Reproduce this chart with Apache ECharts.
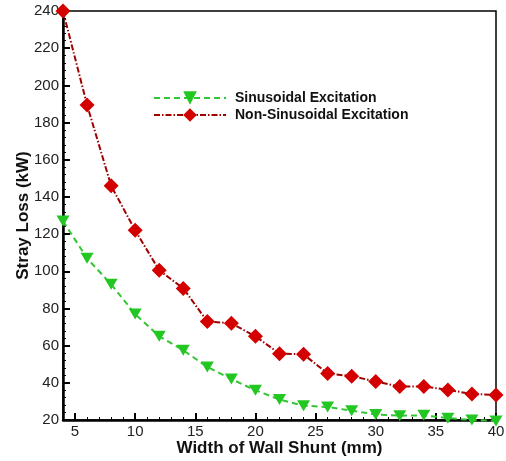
<!DOCTYPE html>
<html>
<head>
<meta charset="utf-8">
<script src="https://cdn.jsdelivr.net/npm/echarts@6/dist/echarts.min.js"></script>
<style>
  html, body { margin: 0; padding: 0; background: #fff; }
  #chart { width: 506px; height: 461px; }
</style>
</head>
<body>
<div id="chart"></div>
<script>
const widths = [4, 6, 8, 10, 12, 14, 16, 18, 20, 22, 24, 26, 28, 30, 32, 34, 36, 38, 40];
const sinusoidal = [127, 107, 93, 77, 65, 57.5, 48.5, 42, 36, 31, 27.7, 27, 25, 23, 22.3, 22.5, 21, 20, 19.5];
const nonSinusoidal = [240, 189.5, 146, 122, 100.5, 90.8, 73, 72, 65, 55.7, 55.3, 45, 43.6, 40.7, 38, 38, 36.2, 34, 33.5];
const majorXTicks = [5, 10, 15, 20, 25, 30, 35, 40];

const chart = echarts.init(document.getElementById("chart"));
const font = "Liberation Sans, Arial, sans-serif";

chart.setOption({
  animation: false,
  grid: {
    left: 63, right: 10, top: 11, bottom: 41,
    outerBoundsMode: "none",
    show: true, borderColor: "#000", borderWidth: 1.5, backgroundColor: "transparent"
  },
  legend: {
    orient: "vertical",
    left: 148, top: 86,
    itemWidth: 72, itemHeight: 17, itemGap: 3,
    textStyle: { fontFamily: font, fontWeight: "bold", fontSize: 14, color: "#111", padding: [0, 0, 0, 4] },
    data: ["Sinusoidal Excitation", "Non-Sinusoidal Excitation"]
  },
  xAxis: [
    {
      type: "value", min: 4, max: 40, interval: 1,
      name: "Width of Wall Shunt (mm)", nameLocation: "middle", nameGap: 20,
      nameMoveOverlap: false,
      nameTextStyle: { fontFamily: font, fontWeight: "bold", fontSize: 17, color: "#111" },
      axisLine: { show: true, lineStyle: { color: "#000", width: 2.5 } },
      axisTick: { show: true, inside: true, length: 3, lineStyle: { color: "#000", width: 1 } },
      axisLabel: {
        fontFamily: font, fontSize: 15, color: "#222", margin: 4,
        formatter: v => (v % 5 === 0 ? String(v) : "")
      },
      splitLine: { show: false }
    },
    {
      type: "value", min: 4, max: 40, position: "bottom",
      axisLine: { show: false },
      axisTick: { show: true, inside: true, length: 7, customValues: majorXTicks, lineStyle: { color: "#000", width: 2 } },
      axisLabel: { show: false },
      splitLine: { show: false }
    }
  ],
  yAxis: {
    type: "value", min: 20, max: 240, interval: 20,
    name: "Stray Loss (kW)", nameLocation: "middle", nameGap: 31, nameRotate: 90,
    nameMoveOverlap: false,
    nameTextStyle: { fontFamily: font, fontWeight: "bold", fontSize: 17, color: "#111" },
    axisLine: { show: true, lineStyle: { color: "#000", width: 2.5 } },
    axisTick: { show: true, inside: true, length: 7, lineStyle: { color: "#000", width: 2 } },
    minorTick: { show: true, splitNumber: 5, length: 3, lineStyle: { color: "#000", width: 1 } },
    axisLabel: { fontFamily: font, fontSize: 15, color: "#222", margin: 4 },
    splitLine: { show: false }
  },
  series: [
    {
      name: "Sinusoidal Excitation",
      type: "line",
      clip: false,
      data: widths.map((w, i) => [w, sinusoidal[i]]),
      symbol: "triangle", symbolRotate: 180, symbolSize: [13, 11],
      itemStyle: { color: "#22C722" },
      lineStyle: { color: "#33C533", width: 2, type: [6, 4] },
      z: 3
    },
    {
      name: "Non-Sinusoidal Excitation",
      type: "line",
      clip: false,
      data: widths.map((w, i) => [w, nonSinusoidal[i]]),
      symbol: "diamond", symbolSize: 15,
      itemStyle: { color: "#D40000" },
      lineStyle: { color: "#A00000", width: 2, type: [6, 2, 1.5, 2] },
      z: 4
    }
  ]
});
</script>
</body>
</html>
